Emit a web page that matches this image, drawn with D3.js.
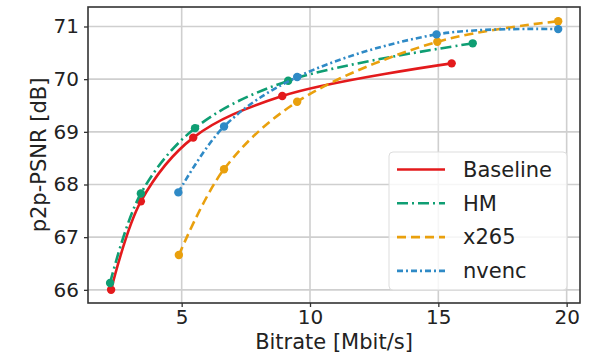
<!DOCTYPE html>
<html>
<head>
<meta charset="utf-8">
<script src="https://cdn.jsdelivr.net/npm/d3@7/dist/d3.min.js"></script>
<style>
  body { margin: 0; background: #fff; }
  svg { display: block; font-family: "DejaVu Sans", sans-serif; }
</style>
</head>
<body>
<svg id="chart" width="590" height="356"></svg>
<script>
const seriesNames = ["Baseline", "HM", "x265", "nvenc"];
const baselineRate = [2.25, 3.41, 5.45, 8.92, 15.52];
const baselinePsnr = [66.0, 67.68, 68.89, 69.68, 70.30];
const hmRate = [2.21, 3.41, 5.52, 9.15, 16.34];
const hmPsnr = [66.13, 67.83, 69.07, 69.97, 70.68];
const x265Rate = [4.89, 6.65, 9.50, 14.96, 19.67];
const x265Psnr = [66.66, 68.29, 69.57, 70.71, 71.10];
const nvencRate = [4.87, 6.65, 9.50, 14.93, 19.67];
const nvencPsnr = [67.85, 69.10, 70.04, 70.85, 70.95];
const xTicks = [5, 10, 15, 20];
const yTicks = [66, 67, 68, 69, 70, 71];

const width = 590;
const height = 356;
const margin = { top: 7, right: 10, bottom: 53, left: 88 };
const font = "'DejaVu Sans', sans-serif";

const colors = ["#e31a1c", "#0f9e73", "#e9a00d", "#2f8ac6"];
const dashes = [null, "11,4,2,4", "9,5", "6,3,2,3"];

const rates = [baselineRate, hmRate, x265Rate, nvencRate];
const psnrs = [baselinePsnr, hmPsnr, x265Psnr, nvencPsnr];
const series = seriesNames.map((name, i) => ({
  name,
  color: colors[i],
  dash: dashes[i],
  points: rates[i].map((r, j) => [r, psnrs[i][j]])
}));

const svg = d3.select("#chart");

const x = d3.scaleLinear()
  .domain([1.35, 20.52])
  .range([margin.left, width - margin.right]);
const y = d3.scaleLinear()
  .domain([65.75, 71.37])
  .range([height - margin.bottom, margin.top]);

// grid
const grid = svg.append("g");
grid.selectAll(".gx")
  .data(xTicks)
  .enter()
  .append("line")
  .attr("x1", d => x(d)).attr("x2", d => x(d))
  .attr("y1", margin.top).attr("y2", height - margin.bottom)
  .attr("stroke", "#cfcfcf").attr("stroke-width", 1.6);
grid.selectAll(".gy")
  .data(yTicks)
  .enter()
  .append("line")
  .attr("x1", margin.left).attr("x2", width - margin.right)
  .attr("y1", d => y(d)).attr("y2", d => y(d))
  .attr("stroke", "#cfcfcf").attr("stroke-width", 1.6);

// lines
const line = d3.line()
  .x(d => x(d[0]))
  .y(d => y(d[1]))
  .curve(d3.curveCatmullRom.alpha(0.5));

series.forEach(s => {
  const g = svg.append("g");
  g.append("path")
    .datum(s.points)
    .attr("d", line)
    .attr("fill", "none")
    .attr("stroke", s.color)
    .attr("stroke-width", 2.6)
    .attr("stroke-dasharray", s.dash);
  g.selectAll("circle")
    .data(s.points)
    .enter()
    .append("circle")
    .attr("cx", d => x(d[0]))
    .attr("cy", d => y(d[1]))
    .attr("r", 4.2)
    .attr("fill", s.color);
});

// axes
const xAxis = d3.axisBottom(x).tickValues(xTicks).tickFormat(d3.format("d")).tickSize(4).tickPadding(3);
const yAxis = d3.axisLeft(y).tickValues(yTicks).tickFormat(d3.format("d")).tickSize(4).tickPadding(5);

const gx = svg.append("g")
  .attr("transform", `translate(0,${height - margin.bottom})`)
  .call(xAxis);
const gy = svg.append("g")
  .attr("transform", `translate(${margin.left},0)`)
  .call(yAxis);
[gx, gy].forEach(g => {
  g.attr("font-family", font);
  g.select(".domain").remove();
  g.selectAll(".tick line").attr("stroke", "#333").attr("stroke-width", 1.3);
  g.selectAll(".tick text")
    .attr("fill", "#222")
    .style("font-size", "20px");
});

svg.append("rect")
  .attr("x", margin.left).attr("y", margin.top)
  .attr("width", width - margin.left - margin.right)
  .attr("height", height - margin.top - margin.bottom)
  .attr("fill", "none")
  .attr("stroke", "#333")
  .attr("stroke-width", 1.6);

svg.append("text")
  .attr("x", (margin.left + width - margin.right) / 2)
  .attr("y", 349)
  .attr("text-anchor", "middle")
  .attr("fill", "#222")
  .style("font-size", "21px")
  .text("Bitrate [Mbit/s]");

svg.append("text")
  .attr("transform", `translate(46,${(margin.top + height - margin.bottom) / 2}) rotate(-90)`)
  .attr("text-anchor", "middle")
  .attr("fill", "#222")
  .style("font-size", "21px")
  .text("p2p-PSNR [dB]");

// legend
const legend = svg.append("g");
legend.append("rect")
  .attr("x", 389).attr("y", 152)
  .attr("width", 178).attr("height", 138)
  .attr("rx", 4)
  .attr("fill", "#fff").attr("fill-opacity", 0.8)
  .attr("stroke", "#ddd").attr("stroke-width", 1);

const items = legend.selectAll(".item")
  .data(series)
  .enter()
  .append("g")
  .attr("transform", (d, i) => `translate(0,${169.5 + i * 33.8})`);
items.append("line")
  .attr("x1", 397).attr("x2", 445)
  .attr("stroke", d => d.color)
  .attr("stroke-width", 2.6)
  .attr("stroke-dasharray", d => d.dash);
items.append("text")
  .attr("x", 463)
  .attr("dy", "0.35em")
  .attr("fill", "#222")
  .style("font-size", "21px")
  .text(d => d.name);
</script>
</body>
</html>
